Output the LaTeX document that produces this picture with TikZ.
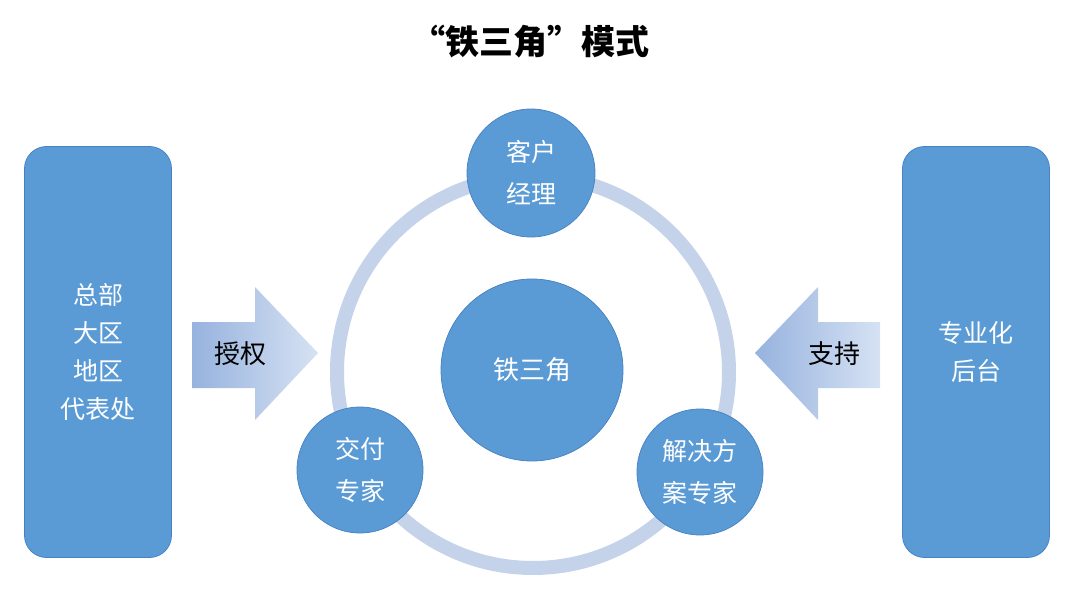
\documentclass[tikz,border=0pt]{standalone}
\usepackage{fontspec}
\setmainfont{Noto Sans CJK SC}
\usetikzlibrary{positioning}

\definecolor{nodeblue}{RGB}{91,155,213}
\definecolor{nodeedge}{RGB}{70,130,195}
\definecolor{ringblue}{RGB}{197,211,234}
\definecolor{arrowdark}{RGB}{150,178,222}
\definecolor{arrowlight}{RGB}{214,226,243}

\tikzset{every picture/.style={line width=0.75pt}}
\tikzset{
  rolebox/.style={draw=nodeedge, fill=nodeblue, rounded corners=22pt, minimum width=147pt, minimum height=411pt, text=white, font=\fontsize{25}{38}\selectfont, align=center},
  rolecircle/.style={circle, draw=nodeedge, fill=nodeblue, inner sep=0pt, text=white, font=\fontsize{25}{42}\selectfont, align=center},
  arrowlabel/.style={inner sep=0pt, font=\fontsize{26}{30}\selectfont}
}

\begin{document}
\begin{tikzpicture}[x=1pt,y=1pt,yscale=-1,xscale=1]
\useasboundingbox (0,0) rectangle (1080,599);

% title
\node (title) at (530,42) {\fontsize{34}{40}\selectfont\bfseries “铁三角”模式};

% side boxes
\node [rolebox] (hq) at (98,352) {总部\\大区\\地区\\代表处};
\node [rolebox] (back) at (976,352) {专业化\\后台};

% ring and circles
\coordinate (hub) at (533,372);
\draw [ringblue, line width=14pt] (hub) circle (196);
\node [rolecircle, minimum size=182pt, font=\fontsize{26}{30}\selectfont] (core) at (532,370) {铁三角};
\node [rolecircle, minimum size=128pt] (manager) at (531,173) {客户\\经理};
\node [rolecircle, minimum size=126pt] (delivery) at (360,470) {交付\\专家};
\node [rolecircle, minimum size=126pt] (solution) at (700,472) {解决方\\案专家};

% block arrows
\shade [left color=arrowdark, right color=arrowlight] (192,322) -- (255,322) -- (255,287) -- (318,353) -- (255,420) -- (255,388) -- (192,388) -- cycle;
\shade [left color=arrowdark, right color=arrowlight] (880,322) -- (818,322) -- (818,287) -- (755,353) -- (818,420) -- (818,388) -- (880,388) -- cycle;
\node [arrowlabel] (grant) at (240,354) {授权};
\node [arrowlabel] (support) at (834,354) {支持};

\end{tikzpicture}
\end{document}
